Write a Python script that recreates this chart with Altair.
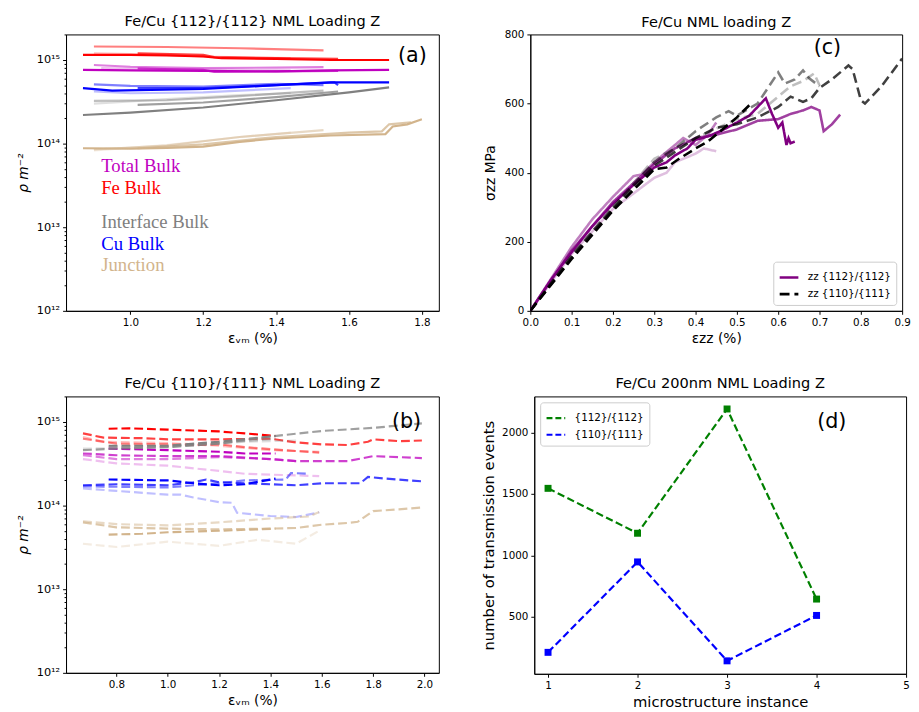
import altair as alt
import pandas as pd

FONT = "DejaVu Sans"
ALPHAS = [1.0, 0.75, 0.5, 0.25]

# ---------------- Panel (a): {112}/{112}, solid lines ----------------
A_TOTAL = [
    [(0.87, 7.6e14), (1.0, 7.5e14), (1.2, 7.4e14), (1.4, 7.3e14), (1.55, 7.5e14), (1.71, 7.6e14)],
    [(1.02, 7.9e14), (1.2, 7.6e14), (1.23, 7.2e14), (1.4, 7.3e14), (1.57, 7.4e14)],
    [(0.90, 8.7e14), (1.0, 8.3e14), (1.2, 8.0e14), (1.4, 8.1e14), (1.53, 8.2e14)],
    [(0.92, 8.0e14), (1.2, 7.7e14), (1.44, 7.5e14)],
]
A_FE = [
    [(0.87, 1.15e15), (1.0, 1.15e15), (1.1, 1.13e15), (1.2, 1.1e15), (1.25, 1.05e15), (1.4, 1.03e15), (1.55, 1.0e15), (1.71, 1.0e15)],
    [(1.02, 1.2e15), (1.2, 1.15e15), (1.23, 1.08e15), (1.4, 1.05e15), (1.57, 1.03e15)],
    [(0.90, 1.45e15), (1.1, 1.43e15), (1.3, 1.38e15), (1.53, 1.3e15)],
    [(0.90, 1.2e15), (1.1, 1.15e15), (1.2, 1.1e15), (1.44, 1.05e15)],
]
A_INTERFACE = [
    [(0.87, 2.2e14), (1.0, 2.35e14), (1.2, 2.7e14), (1.4, 3.3e14), (1.6, 4.1e14), (1.71, 4.7e14)],
    [(1.02, 2.9e14), (1.2, 3.1e14), (1.4, 3.6e14), (1.57, 4.2e14)],
    [(0.90, 3.25e14), (1.1, 3.3e14), (1.3, 3.7e14), (1.53, 4.3e14)],
    [(0.90, 3.0e14), (1.1, 3.4e14), (1.3, 3.8e14), (1.44, 4.0e14)],
]
A_CU = [
    [(0.87, 4.6e14), (0.95, 4.3e14), (1.2, 4.5e14), (1.4, 5.0e14), (1.55, 5.4e14), (1.71, 5.4e14)],
    [(1.02, 4.6e14), (1.2, 4.6e14), (1.4, 5.0e14), (1.56, 5.4e14), (1.57, 5.0e14)],
    [(0.90, 5.1e14), (1.0, 4.9e14), (1.2, 4.8e14), (1.4, 5.2e14), (1.53, 5.0e14)],
    [(0.90, 4.2e14), (1.0, 4.0e14), (1.2, 4.1e14), (1.44, 4.6e14)],
]
A_JUNCTION = [
    [(0.87, 8.8e13), (1.0, 8.7e13), (1.1, 8.9e13), (1.2, 9.2e13), (1.3, 1.05e14), (1.4, 1.15e14), (1.55, 1.25e14), (1.7, 1.3e14), (1.72, 1.6e14), (1.76, 1.7e14), (1.80, 1.95e14)],
    [(1.02, 8.8e13), (1.2, 9.8e13), (1.4, 1.2e14), (1.6, 1.35e14), (1.69, 1.4e14), (1.71, 1.7e14), (1.77, 1.8e14)],
    [(0.90, 8.5e13), (1.1, 9.5e13), (1.3, 1.2e14), (1.53, 1.45e14)],
    [(0.90, 8.3e13), (1.1, 9.6e13), (1.3, 1.2e14), (1.44, 1.35e14)],
]

# ---------------- Panel (b): {110}/{111}, dashed lines ----------------
B_TOTAL = [
    [(0.77, 4.8e14), (1.0, 4.6e14), (1.2, 4.4e14), (1.3, 4.2e14), (1.42, 4.2e14)],
    [(0.67, 4.2e14), (0.8, 4.0e14), (1.0, 3.9e14), (1.2, 3.9e14), (1.4, 3.6e14), (1.5, 3.4e14), (1.7, 3.4e14), (1.8, 3.9e14), (1.99, 3.7e14)],
    [(0.67, 4.0e14), (0.8, 3.6e14), (1.0, 3.6e14), (1.2, 3.8e14), (1.4, 3.6e14), (1.5, 3.4e14)],
    [(0.67, 3.6e14), (0.8, 3.2e14), (1.0, 3.0e14), (1.2, 2.6e14), (1.3, 2.4e14), (1.59, 2.25e14)],
]
B_FE = [
    [(0.77, 8.3e14), (0.85, 8.4e14), (1.0, 8.1e14), (1.1, 7.9e14), (1.2, 7.7e14), (1.3, 7.3e14), (1.42, 6.8e14)],
    [(0.67, 7.3e14), (0.75, 6.5e14), (0.9, 6.4e14), (1.0, 6.2e14), (1.2, 6.2e14), (1.4, 6.3e14), (1.5, 5.7e14), (1.6, 5.4e14), (1.7, 5.3e14), (1.78, 5.8e14), (1.8, 6.2e14), (1.9, 5.9e14), (1.99, 6.0e14)],
    [(0.67, 6.3e14), (0.8, 5.5e14), (1.0, 5.4e14), (1.1, 5.3e14), (1.2, 5.4e14), (1.3, 5.0e14), (1.45, 4.6e14), (1.59, 4.3e14)],
    [(0.67, 6.6e14), (0.75, 5.8e14), (1.0, 5.6e14), (1.2, 5.2e14), (1.4, 4.6e14), (1.59, 4.4e14)],
]
B_INTERFACE = [
    [(0.77, 5.2e14), (1.0, 5.2e14), (1.2, 5.8e14), (1.42, 6.8e14)],
    [(0.67, 4.6e14), (0.8, 4.8e14), (1.0, 5.0e14), (1.2, 5.5e14), (1.4, 6.7e14), (1.6, 7.8e14), (1.8, 8.5e14), (1.99, 9.6e14)],
    [(0.77, 5.0e14), (1.0, 5.1e14), (1.2, 5.6e14), (1.42, 6.3e14)],
    [(0.67, 4.8e14), (1.0, 5.0e14), (1.3, 5.8e14), (1.5, 6.0e14)],
]
B_CU = [
    [(0.77, 2.05e14), (1.0, 2.0e14), (1.1, 1.85e14), (1.2, 1.75e14), (1.3, 1.8e14), (1.42, 2.1e14)],
    [(0.67, 1.75e14), (0.8, 1.8e14), (1.0, 1.75e14), (1.1, 1.9e14), (1.15, 2.05e14), (1.2, 1.9e14), (1.3, 1.85e14), (1.5, 1.75e14), (1.6, 1.85e14), (1.75, 1.85e14), (1.78, 2.2e14), (1.85, 2.1e14), (1.99, 1.95e14)],
    [(0.67, 1.7e14), (1.0, 1.65e14), (1.2, 1.85e14), (1.3, 2.0e14), (1.46, 2.05e14), (1.48, 2.45e14), (1.55, 2.4e14)],
    [(0.67, 1.6e14), (0.8, 1.5e14), (1.0, 1.35e14), (1.05, 1.35e14), (1.1, 1.25e14), (1.2, 1.1e14), (1.25, 1.08e14), (1.27, 8.2e13), (1.4, 7.5e13), (1.5, 7.3e13), (1.59, 8.3e13)],
]
B_JUNCTION = [
    [(0.77, 4.5e13), (0.9, 4.6e13), (1.0, 4.8e13), (1.2, 5.0e13), (1.42, 5.3e13)],
    [(0.67, 6.3e13), (0.8, 5.5e13), (1.0, 5.3e13), (1.2, 5.2e13), (1.4, 5.3e13), (1.5, 5.4e13), (1.6, 5.9e13), (1.7, 6.2e13), (1.74, 6.4e13), (1.8, 8.6e13), (1.9, 9.0e13), (1.99, 9.5e13)],
    [(0.67, 6.5e13), (0.8, 6.0e13), (1.0, 5.8e13), (1.2, 6.3e13), (1.4, 7.0e13), (1.55, 7.4e13), (1.59, 8.4e13)],
    [(0.67, 3.5e13), (0.8, 3.2e13), (1.0, 3.7e13), (1.15, 3.4e13), (1.2, 3.3e13), (1.35, 3.9e13), (1.5, 3.5e13), (1.59, 5.0e13)],
]

# ---------------- Panel (c): stress-strain ----------------
C_112 = [
    [(0, 0), (0.05, 90), (0.1, 170), (0.15, 245), (0.2, 310), (0.25, 365), (0.3, 415), (0.33, 430), (0.35, 450), (0.38, 470), (0.4, 495), (0.43, 505), (0.46, 520), (0.5, 545), (0.53, 565), (0.55, 590), (0.57, 615), (0.585, 570), (0.6, 530), (0.61, 545), (0.62, 480), (0.625, 500), (0.63, 485), (0.64, 490)],
    [(0, 0), (0.1, 175), (0.2, 315), (0.3, 425), (0.35, 470), (0.4, 500), (0.45, 510), (0.5, 525), (0.55, 550), (0.6, 555), (0.63, 570), (0.66, 580), (0.68, 590), (0.7, 580), (0.71, 520), (0.73, 540), (0.75, 568)],
    [(0, 0), (0.1, 185), (0.15, 265), (0.2, 330), (0.25, 390), (0.27, 395), (0.3, 430), (0.35, 480), (0.37, 500), (0.4, 480), (0.43, 510), (0.45, 545)],
    [(0, 0), (0.1, 165), (0.2, 295), (0.25, 340), (0.3, 385), (0.33, 400), (0.35, 430), (0.4, 455), (0.42, 470), (0.45, 462)],
]
C_110 = [
    [(0, 0), (0.1, 150), (0.2, 290), (0.3, 410), (0.33, 415), (0.36, 440), (0.4, 470), (0.43, 490), (0.46, 520), (0.5, 560), (0.53, 595)],
    [(0, 0), (0.1, 155), (0.2, 295), (0.3, 420), (0.4, 500), (0.45, 530), (0.5, 540), (0.55, 560), (0.6, 590), (0.63, 620), (0.66, 605), (0.68, 615), (0.7, 645), (0.73, 670), (0.77, 710), (0.78, 700), (0.8, 610), (0.81, 600), (0.85, 650), (0.9, 730)],
    [(0, 0), (0.1, 160), (0.2, 300), (0.3, 430), (0.35, 470), (0.4, 520), (0.45, 560), (0.48, 578), (0.5, 565), (0.55, 600), (0.6, 690), (0.616, 658), (0.64, 670), (0.66, 696), (0.675, 673), (0.7, 650)],
    [(0, 0), (0.1, 160), (0.2, 300), (0.3, 440), (0.4, 500), (0.5, 555), (0.55, 570), (0.6, 620), (0.63, 650), (0.66, 665), (0.687, 687), (0.7, 653)],
]

# ---------------- Panel (d): transmission events ----------------
D_INSTANCE = [1, 2, 3, 4]
D_112 = [1545, 1180, 2190, 645]
D_110 = [212, 947, 143, 512]

CAT_COLORS = {"Total Bulk": "#bf00bf", "Fe Bulk": "#ff0000", "Interface Bulk": "#808080",
              "Cu Bulk": "#0000ff", "Junction": "#d2b48c"}
LABEL_Y = [5.4e13, 2.9e13, 1.15e13, 6.3e12, 3.5e12]

LOG_TICKS = [m * 10 ** e for e in range(12, 16) for m in range(1, 10) if m * 10 ** e <= 2e15]
IS_MAJOR = "(datum.value == 1e12 || datum.value == 1e13 || datum.value == 1e14 || datum.value == 1e15)"
LOG_EXPR = ("datum.value == 1e12 ? '10¹²' : datum.value == 1e13 ? '10¹³' : "
            "datum.value == 1e14 ? '10¹⁴' : datum.value == 1e15 ? '10¹⁵' : ''")


def frame(groups):
    rows = []
    for name, color, insts in groups:
        for k, pts in enumerate(insts):
            for i, (x, y) in enumerate(pts):
                rows.append(dict(series=f"{name}-{k}", grp=name, x=x, y=y, ord=i,
                                 color=color, alpha=ALPHAS[k]))
    return pd.DataFrame(rows)


def title(t, offset=0):
    return alt.TitleParams(t, fontSize=14.8, fontWeight="normal", font=FONT, offset=offset, color="black")


def density_panel(groups, dash, xdom, xticks, ttl, letter, letter_xy, labels):
    df = frame(groups)
    x = alt.X("x:Q", scale=alt.Scale(domain=xdom, nice=False, zero=False),
              axis=alt.Axis(values=xticks, format=".1f", title="εᵥₘ (%)"))
    y = alt.Y("y:Q", scale=alt.Scale(type="log", domain=[1e12, 2.02e15], nice=False),
              axis=alt.Axis(values=LOG_TICKS, labelExpr=LOG_EXPR, title="ρ m⁻²", titleFontStyle="italic",
                            labelFontSize=11.5, minExtent=36, maxExtent=36, titlePadding=0,
                            tickSize={"condition": {"test": IS_MAJOR, "value": 3.5}, "value": 2}))
    mk = dict(strokeWidth=2.2, clip=True)
    if dash:
        mk["strokeDash"] = [9, 4]
    lines = alt.Chart(df).mark_line(**mk).encode(
        x=x, y=y,
        color=alt.Color("color:N", scale=None),
        opacity=alt.Opacity("alpha:Q", scale=None),
        detail="series:N", order="ord:Q")
    layers = [lines]
    if labels:
        ldf = pd.DataFrame({"x": [0.92] * 5, "y": LABEL_Y, "t": list(CAT_COLORS.keys()),
                            "c": list(CAT_COLORS.values())})
        layers.append(alt.Chart(ldf).mark_text(align="left", baseline="middle", font="Liberation Serif",
                                               fontSize=19).encode(
            x="x:Q", y="y:Q", text="t:N", color=alt.Color("c:N", scale=None)))
    tdf = pd.DataFrame({"x": [letter_xy[0]], "y": [letter_xy[1]], "t": [letter]})
    layers.append(alt.Chart(tdf).mark_text(font=FONT, fontSize=21, baseline="middle").encode(
        x="x:Q", y="y:Q", text="t:N"))
    return alt.layer(*layers).properties(width=379, height=281, title=title(ttl))


panel_a = density_panel(
    [("Total Bulk", CAT_COLORS["Total Bulk"], A_TOTAL), ("Fe Bulk", CAT_COLORS["Fe Bulk"], A_FE),
     ("Interface Bulk", CAT_COLORS["Interface Bulk"], A_INTERFACE), ("Cu Bulk", CAT_COLORS["Cu Bulk"], A_CU),
     ("Junction", CAT_COLORS["Junction"], A_JUNCTION)],
    False, [0.8235, 1.8465], [1.0, 1.2, 1.4, 1.6, 1.8],
    "Fe/Cu {112}/{112} NML Loading Z", "(a)", (1.774, 1.11e15), True)

panel_b = density_panel(
    [("Total Bulk", CAT_COLORS["Total Bulk"], B_TOTAL), ("Fe Bulk", CAT_COLORS["Fe Bulk"], B_FE),
     ("Interface Bulk", CAT_COLORS["Interface Bulk"], B_INTERFACE), ("Cu Bulk", CAT_COLORS["Cu Bulk"], B_CU),
     ("Junction", CAT_COLORS["Junction"], B_JUNCTION)],
    True, [0.604, 2.056], [0.8, 1.0, 1.2, 1.4, 1.6, 1.8, 2.0],
    "Fe/Cu {110}/{111} NML Loading Z", "(b)", (1.93, 1.0e15), False)

LEGEND_COMMON = dict(title=None, symbolType="stroke", symbolSize=361, offset=6, rowPadding=-3,
                     padding=5, labelFontSize=10.5)

# panel c
C_NAMES = ["zz {112}/{112}", "zz {110}/{111}"]
df_c = frame([(C_NAMES[0], "#800080", C_112), (C_NAMES[1], "#000000", C_110)])
lines_c = alt.Chart(df_c).mark_line(strokeWidth=2.6, clip=True).encode(
    x=alt.X("x:Q", scale=alt.Scale(domain=[0, 0.9], nice=False),
            axis=alt.Axis(values=[i / 10 for i in range(10)], format=".1f", title="εzz (%)")),
    y=alt.Y("y:Q", scale=alt.Scale(domain=[0, 800], nice=False),
            axis=alt.Axis(values=list(range(0, 801, 100)), title="σzz MPa",
                          minExtent=33, maxExtent=33, titlePadding=0)),
    color=alt.Color("grp:N", scale=alt.Scale(domain=C_NAMES, range=["#800080", "#000000"]),
                    legend=alt.Legend(orient="bottom-right", symbolStrokeWidth=2.6, **LEGEND_COMMON)),
    strokeDash=alt.StrokeDash("grp:N", scale=alt.Scale(domain=C_NAMES, range=[[1, 0], [10, 5]]),
                              legend=alt.Legend(title=None, orient="bottom-right")),
    opacity=alt.Opacity("alpha:Q", scale=None),
    detail="series:N", order="ord:Q")
letter_c = alt.Chart(pd.DataFrame({"x": [0.719], "y": [760], "t": ["(c)"]})).mark_text(
    font=FONT, fontSize=21, baseline="middle").encode(x="x:Q", y="y:Q", text="t:N")
panel_c = alt.layer(lines_c, letter_c).properties(width=378, height=281, title=title("Fe/Cu NML loading Z"))

# panel d
D_NAMES = ["{112}/{112}", "{110}/{111}"]
df_d = pd.DataFrame({"inst": D_INSTANCE * 2, "n": D_112 + D_110,
                     "grp": [D_NAMES[0]] * 4 + [D_NAMES[1]] * 4})
d_color = alt.Color("grp:N", scale=alt.Scale(domain=D_NAMES, range=["#008000", "#0000ff"]),
                    legend=alt.Legend(orient="top-left", symbolStrokeWidth=2.2, symbolDash=[6, 3],
                                      **LEGEND_COMMON))
d_x = alt.X("inst:Q", scale=alt.Scale(domain=[0.846, 5], nice=False, zero=False),
            axis=alt.Axis(values=[1, 2, 3, 4, 5], format="d", title="microstructure instance",
                          titleFontSize=15))
d_y = alt.Y("n:Q", scale=alt.Scale(domain=[37.5, 2292], nice=False, zero=False),
            axis=alt.Axis(values=[500, 1000, 1500, 2000], format="d", title="number of transmission events",
                          titleFontSize=15, minExtent=38, maxExtent=38, titlePadding=0))
line_d = alt.Chart(df_d).mark_line(strokeWidth=2.2, strokeDash=[7.5, 3.5]).encode(
    x=d_x, y=d_y, color=d_color, order="inst:Q")
pts_d = alt.Chart(df_d).mark_point(shape="square", filled=True, size=50, opacity=1).encode(
    x=d_x, y=d_y, color=alt.Color("grp:N", scale=alt.Scale(domain=D_NAMES, range=["#008000", "#0000ff"]),
                                  legend=None))
letter_d = alt.Chart(pd.DataFrame({"x": [4.17], "y": [2086], "t": ["(d)"]})).mark_text(
    font=FONT, fontSize=21, baseline="middle").encode(x="x:Q", y="y:Q", text="t:N")
panel_d = alt.layer(line_d, pts_d, letter_d).properties(width=378, height=282,
                                                         title=title("Fe/Cu 200nm NML Loading Z", offset=6))

top = alt.hconcat(panel_a, panel_c, spacing=44).resolve_scale(color="independent", strokeDash="independent")
bottom = alt.hconcat(panel_b, panel_d, spacing=42).resolve_scale(color="independent", strokeDash="independent")
chart = alt.vconcat(top, bottom, spacing=29).resolve_scale(
    color="independent", strokeDash="independent"
).properties(
    padding={"left": 8, "top": 0, "right": 0, "bottom": 0}
).configure_view(stroke="black", strokeWidth=1).configure_axis(
    grid=False, labelFont=FONT, titleFont=FONT, labelFontSize=10.5, titleFontSize=14,
    titleFontWeight="normal", labelColor="black", titleColor="black", tickColor="black",
    domainColor="black", tickSize=3.5, labelPadding=3, labelFlush=False, labelOverlap=False
).configure_legend(
    labelFont=FONT, labelFontSize=10.5, labelColor="black", strokeColor="#cccccc", fillColor="white",
    cornerRadius=3, labelOffset=8
)

chart.save("out.html", embed_options={"renderer": "svg", "actions": False})
